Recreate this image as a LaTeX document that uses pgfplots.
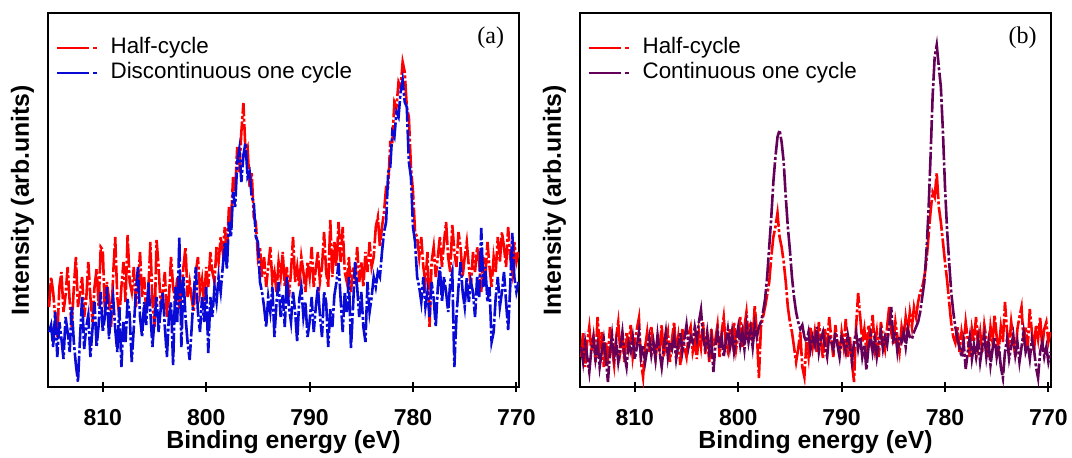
\documentclass[border=0pt]{standalone}
\usepackage{fontspec}
\setmainfont{Liberation Sans}
\newfontfamily\timesfont{Liberation Serif}
\usepackage{pgfplots}
\usepackage{pgfplotstable}
\pgfplotsset{compat=1.18}
\definecolor{hred}{RGB}{255,0,0}
\definecolor{dblue}{RGB}{10,10,215}
\definecolor{cpurple}{RGB}{100,0,88}

\pgfplotstableread{
x ra ba
815.2 80 55
815.0 110 62
814.8 95 40
814.6 70 75
814.4 50 30
814.2 100 65
814.0 115 48
813.8 75 28
813.6 92 70
813.4 120 55
813.2 85 35
813.0 60 80
812.8 100 45
812.6 130 22
812.4 80 5
812.2 95 50
812.0 110 90
811.8 70 38
811.6 88 60
811.4 125 72
811.2 90 30
811.0 65 58
810.8 100 85
810.6 118 40
810.4 80 62
810.2 140 95
810.0 137 55
809.8 75 70
809.6 105 100
809.4 88 48
809.2 60 75
809.0 112 90
808.8 150 58
808.6 90 35
808.4 70 80
808.2 100 20
808.0 125 65
807.8 85 45
807.6 152 88
807.4 105 72
807.2 95 25
807.0 120 60
806.8 80 95
806.6 100 120
806.4 135 70
806.2 90 50
806.0 110 85
805.8 75 62
805.6 95 105
805.4 145 75
805.2 85 40
805.0 60 68
804.8 147 90
804.6 120 55
804.4 80 78
804.2 95 95
804.0 115 60
803.8 70 30
803.6 90 72
803.4 130 85
803.2 100 22
803.0 85 100
802.8 110 65
802.6 78 150
802.4 95 40
802.2 120 110
802.0 140 70
801.8 90 45
801.6 105 27
801.4 88 60
801.2 75 95
801.0 115 120
800.8 130 75
800.6 95 55
800.4 108 90
800.2 85 65
800.0 120 100
799.8 100 34
799.6 135 90
799.4 115 70
799.2 105 100
799.0 140 85
798.8 125 110
798.6 150 95
798.4 135 120
798.2 160 145
798.0 132 118
797.8 180 165
797.6 165 150
797.4 210 195
797.2 195 180
797.0 240 225
796.8 215 238
796.6 255 205
796.4 284 232
796.2 235 244
796.0 240 210
795.8 200 215
795.6 215 190
795.4 170 185
795.2 165 150
795.0 130 145
794.8 140 105
794.6 110 95
794.4 130 80
794.2 100 60
794.0 120 90
793.8 140 75
793.6 105 100
793.4 115 50
793.2 95 85
793.0 125 105
792.8 110 70
792.6 135 92
792.4 100 60
792.2 120 110
792.0 90 80
791.8 115 65
791.6 150 95
791.4 105 75
791.2 120 45
791.0 100 88
790.8 130 100
790.6 115 70
790.4 95 85
790.2 125 50
790.0 110 65
789.8 140 90
789.6 100 55
789.4 118 80
789.2 135 100
789.0 105 72
788.8 120 50
788.6 155 95
788.4 115 85
788.2 100 40
788.0 167 78
787.8 110 60
787.6 145 92
787.4 120 105
787.2 165 124
787.0 125 88
786.8 160 55
786.6 115 95
786.4 105 75
786.2 130 110
786.0 95 38
785.8 120 80
785.6 110 125
785.4 140 100
785.2 105 70
785.0 125 95
784.8 100 60
784.6 135 45
784.4 115 105
784.2 145 75
784.0 120 90
783.8 130 110
783.6 160 100
783.4 170 115
783.2 140 110
783.0 160 135
782.8 175 155
782.6 200 165
782.4 200 215
782.2 245 220
782.0 245 255
781.8 285 250
781.6 280 275
781.4 305 270
781.2 300 295
781.0 325 307
780.8 315 285
780.6 280 280
780.4 270 225
780.2 220 210
780.0 195 160
779.8 155 145
779.6 150 110
779.4 130 100
779.2 150 85
779.0 120 110
778.8 105 80
778.6 135 95
778.4 60 70
778.2 125 105
778.0 140 88
777.8 110 60
777.6 130 100
777.4 150 120
777.2 120 85
777.0 145 110
776.8 165 95
776.6 130 75
776.4 115 105
776.2 162 115
776.0 135 20
775.8 120 70
775.6 155 100
775.4 140 125
775.2 110 95
775.0 130 80
774.8 145 110
774.6 120 85
774.4 100 105
774.2 135 95
774.0 115 70
773.8 140 110
773.6 125 90
773.4 95 159
773.2 130 100
773.0 110 120
772.8 145 85
772.6 120 100
772.4 100 45
772.2 130 55
772.0 115 90
771.8 150 110
771.6 125 80
771.4 155 95
771.2 140 115
771.0 120 85
770.8 160 57
770.6 130 100
770.4 115 154
770.2 145 110
770.0 125 95
769.8 135 105
}\tabA

\pgfplotstableread{
x rb pb
815.2 30 40
815.0 55 25
814.8 20 45
814.6 45 30
814.4 60 15
814.2 35 38
814.0 50 50
813.8 25 28
813.6 70 42
813.4 40 20
813.2 55 35
813.0 20 48
812.8 45 30
812.6 30 5
812.4 60 35
812.2 38 52
812.0 22 30
811.8 50 45
811.6 65 25
811.4 35 40
811.2 48 55
811.0 25 32
810.8 55 20
810.6 40 44
810.4 62 36
810.2 30 50
810.0 45 28
809.8 58 40
809.6 69 55
809.4 25 30
809.2 10 42
809.0 40 25
808.8 55 38
808.6 35 50
808.4 60 32
808.2 42 45
808.0 28 28
807.8 50 52
807.6 38 35
807.4 62 20
807.2 30 40
807.0 45 55
806.8 55 30
806.6 25 45
806.4 48 38
806.2 65 50
806.0 35 28
805.8 50 42
805.6 22 55
805.4 58 35
805.2 40 48
805.0 30 62
804.8 52 40
804.6 60 50
804.4 35 45
804.2 45 60
804.0 28 48
803.8 55 65
803.6 40 77
803.4 65 50
803.2 33 40
803.0 50 55
802.8 25 35
802.6 58 48
802.4 40 15
802.2 48 42
802.0 62 55
801.8 30 38
801.6 55 50
801.4 70 30
801.2 42 45
801.0 35 58
800.8 58 40
800.6 45 55
800.4 65 35
800.2 38 48
800.0 52 60
799.8 70 42
799.6 40 55
799.4 60 38
799.2 75 62
799.0 50 45
798.8 65 58
798.6 45 40
798.4 82 62
798.2 55 50
798.0 9 60
797.8 60 65
797.6 70 75
797.4 80 88
797.2 92 110
797.0 105 140
796.8 130 170
796.6 150 205
796.4 160 230
796.2 174 250
796.0 150 257
795.8 140 245
795.6 125 225
795.4 105 190
795.2 80 160
795.0 65 137
794.8 55 110
794.6 40 90
794.4 25 75
794.2 38 65
794.0 55 58
793.8 20 62
793.6 10 50
793.4 45 45
793.2 30 55
793.0 60 38
792.8 40 50
792.6 55 42
792.4 35 60
792.2 65 35
792.0 45 48
791.8 28 55
791.6 58 40
791.4 40 30
791.2 70 52
791.0 48 45
790.8 30 38
790.6 62 55
790.4 45 42
790.2 35 30
790.0 55 50
789.8 40 45
789.6 68 35
789.4 30 52
789.2 50 40
789.0 25 25
788.8 5 45
788.6 60 55
788.4 94 38
788.2 70 50
788.0 45 30
787.8 58 42
787.6 35 17
787.4 62 40
787.2 48 52
787.0 72 35
786.8 40 48
786.6 55 30
786.4 30 45
786.2 65 55
786.0 50 38
785.8 38 50
785.6 60 42
785.4 80 60
785.2 55 80
785.0 42 48
784.8 65 55
784.6 50 35
784.4 35 50
784.2 60 45
784.0 48 55
783.8 70 40
783.6 55 58
783.4 75 50
783.2 60 48
783.0 80 55
782.8 70 60
782.6 85 65
782.4 95 75
782.2 100 90
782.0 110 105
781.8 125 135
781.6 150 175
781.4 175 230
781.2 195 290
781.0 190 330
780.8 214 342
780.6 180 320
780.4 165 300
780.2 145 255
780.0 125 200
779.8 107 157
779.6 85 125
779.4 64 95
779.2 50 75
779.0 44 60
778.8 60 48
778.6 35 40
778.4 55 30
778.2 42 45
778.0 65 18
777.8 48 35
777.6 30 50
777.4 58 28
777.2 45 42
777.0 70 30
776.8 40 48
776.6 55 25
776.4 35 40
776.2 62 52
776.0 48 30
775.8 30 45
775.6 60 22
775.4 45 38
775.2 72 50
775.0 50 30
774.8 38 42
774.6 60 20
774.4 45 9
774.2 85 35
774.0 55 48
773.8 40 28
773.6 65 40
773.4 48 52
773.2 30 32
773.0 58 45
772.8 70 25
772.6 80 40
772.4 45 55
772.2 60 35
772.0 40 42
771.8 78 28
771.6 55 48
771.4 35 38
771.2 62 20
771.0 48 9
770.8 70 35
770.6 40 45
770.4 58 30
770.2 65 40
770.0 45 25
769.8 55 35
}\tabB

\pgfplotsset{
  xpsaxis/.style={
    scale only axis, width=235.5pt, height=187pt,
    x dir=reverse, xmin=769.75, xmax=815.3, ymin=0, ymax=374,
    xtick={770,780,790,800,810}, ytick=\empty,
    xtick pos=bottom, xtick align=center, major tick length=5pt,
    tick style={line width=1pt, black},
    axis line style={line width=1pt},
    /pgf/number format/assume math mode=true,
    xticklabel style={font=\fontsize{11.5}{13}\selectfont\bfseries, yshift=-5pt},
    xlabel={Binding energy (eV)},
    ylabel={Intensity (arb.units)},
    label style={font=\fontsize{12.4}{14}\selectfont\bfseries},
    xlabel style={at={(axis description cs:0.5,0)}, anchor=center, yshift=-27.5pt},
    ylabel style={at={(axis description cs:-0.054,0.5)}, anchor=center},
    legend cell align=left,
    legend style={draw=none, fill=none, inner sep=0pt, at={(axis description cs:0.017,0.94)}, anchor=north west,
      font=\fontsize{11.2}{13}\selectfont, row sep=0pt,
      nodes={inner sep=1pt, text height=8pt, text depth=2.5pt}},
    legend image code/.code={\draw[line width=0.9pt, dash pattern=on 16pt off 2pt on 2pt off 2pt] (0pt,0pt) -- (21pt,0pt); \path (25pt,0pt);},
    every axis plot/.append style={line width=1.3pt, dash pattern=on 12pt off 1.2pt on 1.5pt off 1.2pt},
  }
}

\begin{document}
\begin{tikzpicture}
\useasboundingbox (-24pt,-35pt) rectangle (512pt,193.5pt);
\begin{axis}[xpsaxis]
\addplot[hred] table[x=x,y=ra] {\tabA};
\addlegendentry{Half-cycle}
\addplot[dblue] table[x=x,y=ba] {\tabA};
\addlegendentry{Discontinuous one cycle}
\node[font=\timesfont\fontsize{12}{14}\selectfont] at (axis description cs:0.94,0.933) {(a)};
\end{axis}
\begin{axis}[xpsaxis, at={(266pt,0pt)}]
\addplot[hred] table[x=x,y=rb] {\tabB};
\addlegendentry{Half-cycle}
\addplot[cpurple] table[x=x,y=pb] {\tabB};
\addlegendentry{Continuous one cycle}
\node[font=\timesfont\fontsize{12}{14}\selectfont] at (axis description cs:0.94,0.933) {(b)};
\end{axis}
\end{tikzpicture}
\end{document}
